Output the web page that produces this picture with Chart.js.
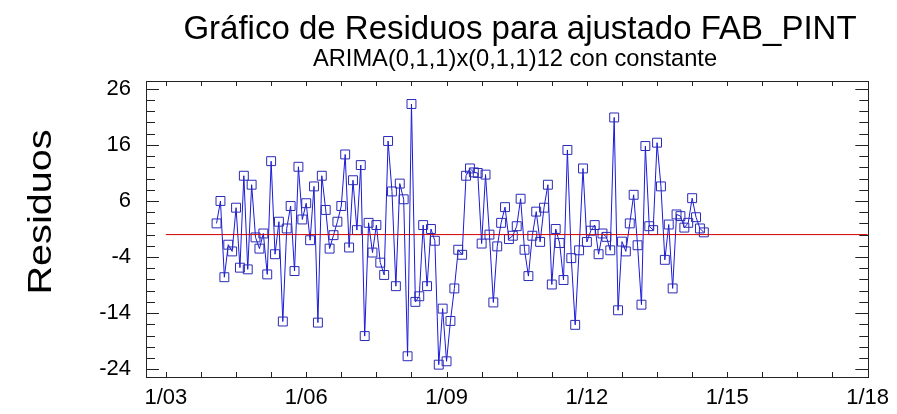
<!DOCTYPE html>
<html>
<head>
<meta charset="utf-8">
<script src="https://cdn.jsdelivr.net/npm/chart.js@4.4.0/dist/chart.umd.min.js"></script>
<style>
  html, body { margin: 0; padding: 0; background: #fff; }
</style>
</head>
<body>
<canvas id="residuosChart" width="897" height="414"></canvas>
<script>
const titulo = 'Gráfico de Residuos para ajustado FAB_PINT';
const subtitulo = 'ARIMA(0,1,1)x(0,1,1)12 con constante';
const ejeY = 'Residuos';

// x en meses contados desde enero 2003 (1/03); el primer residuo es feb 2004
const primerMes = 13;
const residuos = [
  2.0, 6.0, -7.6, -1.8, -3.0, 4.8, -5.9, 10.5, -6.2, 8.9, -0.5,
  -2.5, 0.2, -7.1, 13.1, -3.5, 2.3, -15.5, 1.1, 5.1, -6.5, 12.1, 2.7,
  5.6, -1.0, 8.6, -15.7, 10.5, 4.4, -2.5, -0.1, 2.3, 5.1, 14.3, -2.3,
  9.7, 0.8, 12.4, -18.1, 2.1, -3.2, 1.7, -5.0, -7.2, 16.7, 7.7, -9.2,
  9.1, 6.3, -21.7, 23.3, -12.0, -11.0, 1.7, -9.2, 1.0, -1.1, -23.2, -13.2,
  -22.6, -15.4, -9.6, -2.7, -3.6, 10.5, 11.8, 11.1, 11.0, -1.6, 10.7, 0.0,
  -12.1, -2.1, 2.1, 4.9, -0.8, -0.2, 1.5, 6.4, -2.7, -7.4, -0.2, 4.1,
  -1.3, 4.8, 8.9, -8.9, 1.0, -1.5, -8.1, 15.1, -4.2, -16.1, -2.8, 11.8,
  -1.3, 0.7, 1.7, -3.5, 0.2, -0.4, -2.8, 20.9, -13.5, -1.25, -3.0, 2.0,
  7.1, -1.9, -12.5, 15.8, 1.5, 0.8, 16.4, 8.6, -4.5, 1.8, -9.6, 3.6,
  3.3, 1.25, 2.1, 6.5, 3.1, 1.1, 0.4
];

const xTicks = [0, 36, 72, 108, 144, 180];
const xTickLabels = ['1/03', '1/06', '1/09', '1/12', '1/15', '1/18'];
const xMinorStep = 9;
const yTicks = [-24, -14, -4, 6, 16, 26];
const yMinorStep = 2;
const lineaCero = [{x: 0, y: 0}, {x: 180, y: 0}];

const fuente = '"Liberation Sans", Arial, sans-serif';

// marco, marcas hacia dentro y textos
const marcoPlugin = {
  id: 'marco',
  afterDraw(chart) {
    const {ctx, chartArea: a, scales: {x, y}} = chart;
    ctx.save();
    ctx.strokeStyle = '#222';
    ctx.lineWidth = 1;
    ctx.strokeRect(Math.round(a.left) + 0.5, Math.round(a.top) + 0.5,
      Math.round(a.right - a.left), Math.round(a.bottom - a.top));

    ctx.beginPath();
    for (let v = 0; v <= 180; v += xMinorStep) {
      const px = Math.round(x.getPixelForValue(v)) + 0.5;
      ctx.moveTo(px, a.bottom); ctx.lineTo(px, a.bottom - 5);
      ctx.moveTo(px, a.top); ctx.lineTo(px, a.top + 5);
    }
    for (let v = -24; v <= 26; v += yMinorStep) {
      const py = Math.round(y.getPixelForValue(v)) + 0.5;
      const len = yTicks.includes(v) ? 13 : 9;
      ctx.moveTo(a.left, py); ctx.lineTo(a.left + len, py);
      ctx.moveTo(a.right, py); ctx.lineTo(a.right - len, py);
    }
    ctx.stroke();

    ctx.fillStyle = '#000';
    ctx.textAlign = 'center';
    ctx.textBaseline = 'alphabetic';
    ctx.font = '33px ' + fuente;
    ctx.fillText(titulo, 520, 39);
    ctx.font = '23.7px ' + fuente;
    ctx.fillText(subtitulo, 515, 66);

    ctx.translate(51, 212);
    ctx.rotate(-Math.PI / 2);
    ctx.scale(1.2, 1);
    ctx.font = '33px ' + fuente;
    ctx.fillText(ejeY, 0, 0);
    ctx.restore();
  }
};

new Chart(document.getElementById('residuosChart'), {
  type: 'line',
  data: {
    datasets: [
      {
        data: lineaCero,
        borderColor: '#d00000',
        borderWidth: 1,
        pointRadius: 0,
        fill: false
      },
      {
        label: ejeY,
        data: residuos.map((v, i) => ({x: primerMes + i, y: v})),
        borderColor: '#1a1ad8',
        borderWidth: 1,
        pointStyle: 'rect',
        pointRadius: 6.3,
        pointBorderWidth: 1,
        pointBorderColor: '#2a2ab8',
        pointBackgroundColor: 'rgba(0,0,0,0)',
        tension: 0,
        fill: false
      }
    ]
  },
  options: {
    responsive: false,
    animation: false,
    layout: {
      padding: {top: 81, right: 27, left: 0, bottom: 0}
    },
    plugins: {
      legend: {display: false},
      tooltip: {enabled: false}
    },
    scales: {
      x: {
        type: 'linear',
        min: -5.1,
        max: 180.2,
        grid: {display: false, drawTicks: false},
        border: {display: false},
        afterBuildTicks: s => { s.ticks = xTicks.map(v => ({value: v})); },
        afterFit: s => { s.height = 37; },
        ticks: {
          autoSkip: false,
          maxRotation: 0,
          padding: 8,
          color: '#000',
          font: {family: fuente, size: 22},
          callback: v => xTickLabels[xTicks.indexOf(v)]
        }
      },
      y: {
        min: -25.4,
        max: 27.4,
        grid: {display: false, drawTicks: false},
        border: {display: false},
        afterBuildTicks: s => { s.ticks = yTicks.map(v => ({value: v})); },
        afterFit: s => { s.width = 146; },
        ticks: {
          padding: 15,
          color: '#000',
          font: {family: fuente, size: 22}
        }
      }
    }
  },
  plugins: [marcoPlugin]
});
</script>
</body>
</html>
